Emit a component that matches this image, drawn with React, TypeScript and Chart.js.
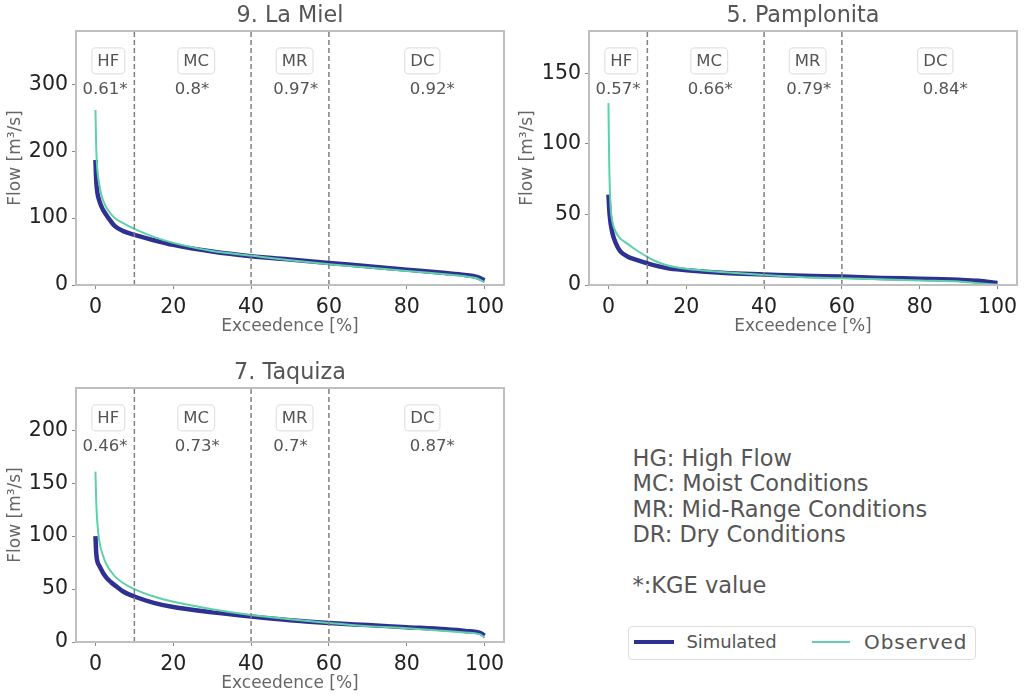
import React, { useEffect, useRef } from "react";
import { Chart, registerables } from "chart.js";

Chart.register(...registerables);

// ---- values ----
const regimeLabels = ["HF", "MC", "MR", "DC"];
const regimeBounds = [10, 40, 60];
const xTicks = [0, 20, 40, 60, 80, 100];

const mielTitle = "9. La Miel";
const mielYMax = 380;
const mielYStep = 100;
const mielKge = ["0.61*", "0.8*", "0.97*", "0.92*"];
const mielObsX = [0, 0.2, 0.5, 1, 1.5, 2, 3, 4, 5, 7, 10, 15, 20, 30, 40, 50, 60, 70, 80, 90, 95, 98, 100];
const mielObsY = [262, 205, 172, 150, 135, 126, 114, 106, 100, 93, 84, 72, 63, 51, 44, 37, 31, 26, 21, 16, 13, 10, 4];
const mielSimX = [0, 0.2, 0.5, 1, 1.5, 2, 3, 4, 5, 7, 10, 15, 20, 30, 40, 50, 60, 70, 80, 90, 95, 98, 100];
const mielSimY = [187, 156, 138, 126, 118, 112, 103, 95, 88, 81, 75, 67, 60, 50, 43, 38, 33, 28, 23, 18, 15, 12, 7];

const pamTitle = "5. Pamplonita";
const pamYMax = 180;
const pamYStep = 50;
const pamKge = ["0.57*", "0.66*", "0.79*", "0.84*"];
const pamObsX = [0, 0.2, 0.5, 1, 2, 3, 5, 7, 10, 12, 15, 20, 30, 40, 50, 60, 70, 80, 90, 95, 100];
const pamObsY = [129, 85, 58, 45, 37, 33, 29, 25, 20, 17, 14, 11.5, 9, 7, 5.5, 4.8, 4, 3.2, 2.5, 1.3, 0.2];
const pamSimX = [0, 0.3, 1, 2, 3, 5, 7, 10, 15, 20, 30, 40, 50, 60, 70, 80, 90, 95, 100];
const pamSimY = [64, 50, 37, 29, 24, 20, 18, 15.4, 12, 10.5, 8.5, 7.5, 6.5, 6, 5, 4.5, 3.7, 3, 1.5];

const taqTitle = "7. Taquiza";
const taqYMax = 240;
const taqYStep = 50;
const taqKge = ["0.46*", "0.73*", "0.7*", "0.87*"];
const taqObsX = [0, 0.2, 0.5, 1, 2, 3, 5, 7, 10, 15, 20, 30, 40, 50, 60, 70, 80, 90, 95, 99, 100];
const taqObsY = [161, 132, 112, 95, 81, 72, 62, 56, 50, 43, 38, 31, 25.5, 21.5, 18, 15, 13, 10.5, 9, 7, 4];
const taqSimX = [0, 0.2, 0.5, 1, 2, 3, 4, 5, 7, 10, 15, 20, 30, 40, 50, 60, 70, 80, 90, 95, 99, 100];
const taqSimY = [100, 84, 76, 72, 65, 60, 56.5, 53.5, 48, 43, 37, 33, 28, 24, 20.5, 18, 16, 14, 12, 10.5, 8.5, 6];

const noteLines = ["HG: High Flow", "MC: Moist Conditions", "MR: Mid-Range Conditions", "DR: Dry Conditions"];
const noteKge = "*:KGE value";
const simulatedName = "Simulated";
const observedName = "Observed";
const xAxisName = "Exceedence [%]";
const yAxisName = "Flow [m³/s]";

// ---- styles ----
const FONT = "'DejaVu Sans', sans-serif";
const NAVY = "#2e3192";
const GREEN = "#5fd0a8";
const GREY_TEXT = "#555555";
const SPINE = "#bfbfbf";

const labelX = [3.3, 25.9, 51.2, 84];
const kgeX = [-3.3, 20.4, 45.7, 80.8];

const zip = (xs: number[], ys: number[]) => xs.map((x, i) => ({ x, y: ys[i] }));

function panelPlugin(kge: string[]) {
  return {
    id: "panelDecor",
    afterDatasetsDraw(chart: any) {
      const { ctx, chartArea: a, scales } = chart;
      ctx.save();
      ctx.strokeStyle = SPINE;
      ctx.lineWidth = 2;
      ctx.strokeRect(a.left, a.top, a.right - a.left, a.bottom - a.top);
      const h = a.bottom - a.top;
      ctx.font = `16.5px ${FONT}`;
      ctx.textBaseline = "middle";
      ctx.textAlign = "center";
      regimeLabels.forEach((label: string, i: number) => {
        const cx = scales.x.getPixelForValue(labelX[i]);
        const cy = a.top + h * 0.118;
        const w = ctx.measureText(label).width + 11;
        ctx.beginPath();
        ctx.roundRect(cx - w / 2, cy - 13, w, 26, 4);
        ctx.fillStyle = "#ffffff";
        ctx.fill();
        ctx.strokeStyle = "#e2e2e2";
        ctx.lineWidth = 1.2;
        ctx.stroke();
        ctx.fillStyle = GREY_TEXT;
        ctx.fillText(label, cx, cy + 0.5);
      });
      ctx.textAlign = "left";
      ctx.font = `16.5px ${FONT}`;
      ctx.fillStyle = GREY_TEXT;
      kge.forEach((t: string, i: number) => {
        ctx.fillText(t, scales.x.getPixelForValue(kgeX[i]), a.top + h * 0.232);
      });
      ctx.restore();
    },
  };
}

function buildConfig(opts: any) {
  const { title, yMax, yStep, kge, obs, sim, yWidth, padRight } = opts;
  const dashed = regimeBounds.map((b) => ({
    data: [{ x: b, y: 0 }, { x: b, y: yMax }],
    borderColor: "#808080",
    borderWidth: 1.5,
    borderDash: [5, 3],
    pointRadius: 0,
  }));
  return {
    type: "line",
    data: {
      datasets: [
        ...dashed,
        { label: observedName, data: obs, borderColor: GREEN, borderWidth: 2, pointRadius: 0, cubicInterpolationMode: "monotone" },
        { label: simulatedName, data: sim, borderColor: NAVY, borderWidth: 4.5, pointRadius: 0, cubicInterpolationMode: "monotone" },
      ],
    },
    options: {
      animation: false,
      responsive: false,
      devicePixelRatio: 1,
      layout: { padding: { left: 0, right: padRight, top: 0, bottom: 0 } },
      plugins: {
        legend: { display: false },
        tooltip: { enabled: false },
        title: {
          display: true,
          text: title,
          fullSize: false,
          color: GREY_TEXT,
          font: { family: FONT, size: 22.3, weight: "normal", lineHeight: 1.2 },
          padding: { top: 3, bottom: 1.24 },
        },
      },
      scales: {
        x: {
          type: "linear",
          min: -5,
          max: 105,
          afterFit: (s: any) => { s.height = 55; },
          afterBuildTicks: (s: any) => { s.ticks = xTicks.map((value) => ({ value })); },
          grid: { display: true, drawOnChartArea: false, color: "#8a8a8a", tickLength: 4, tickWidth: 1 },
          border: { color: SPINE, width: 2 },
          ticks: { color: "#222222", maxRotation: 0, autoSkip: false, padding: 6, font: { family: FONT, size: 20.5 } },
          title: { display: true, text: xAxisName, color: "#666666", padding: { top: 0, bottom: 3 }, font: { family: FONT, size: 17, lineHeight: 1.2 } },
        },
        y: {
          type: "linear",
          min: 0,
          max: yMax,
          afterFit: (s: any) => { s.width = yWidth; },
          grid: { display: true, drawOnChartArea: false, color: "#8a8a8a", tickLength: 4, tickWidth: 1 },
          border: { color: SPINE, width: 2 },
          ticks: { color: "#222222", stepSize: yStep, includeBounds: false, padding: 4, font: { family: FONT, size: 20.5 } },
          title: { display: true, text: yAxisName, color: "#666666", padding: { top: 5, bottom: 0 }, font: { family: FONT, size: 17, lineHeight: 1.2 } },
        },
      },
    },
    plugins: [panelPlugin(kge)],
  };
}

function Panel(props: any) {
  const ref = useRef<HTMLCanvasElement | null>(null);
  useEffect(() => {
    const chart = new Chart(ref.current as any, buildConfig(props) as any);
    return () => chart.destroy();
  }, []);
  return (
    <canvas
      ref={ref}
      width={512}
      height={340}
      style={{ position: "absolute", left: props.left, top: props.top, width: 512, height: 340 }}
    />
  );
}

const absText = (left: number, cy: number, size: number, spacing = 0): React.CSSProperties => ({
  position: "absolute",
  left,
  top: cy - 20,
  height: 40,
  lineHeight: "40px",
  fontSize: size,
  letterSpacing: spacing,
  fontFamily: FONT,
  color: GREY_TEXT,
  whiteSpace: "nowrap",
});

export default function App() {
  return (
    <div style={{ position: "absolute", left: 0, top: 0, width: 1024, height: 698, overflow: "hidden", background: "#fff", filter: "blur(0.45px)" }}>
      <Panel left={0} top={0} title={mielTitle} yMax={mielYMax} yStep={mielYStep} kge={mielKge} obs={zip(mielObsX, mielObsY)} sim={zip(mielSimX, mielSimY)} yWidth={76} padRight={8} />
      <Panel left={512} top={0} title={pamTitle} yMax={pamYMax} yStep={pamYStep} kge={pamKge} obs={zip(pamObsX, pamObsY)} sim={zip(pamSimX, pamSimY)} yWidth={77} padRight={7} />
      <Panel left={0} top={357} title={taqTitle} yMax={taqYMax} yStep={taqYStep} kge={taqKge} obs={zip(taqObsX, taqObsY)} sim={zip(taqSimX, taqSimY)} yWidth={76} padRight={8} />

      {noteLines.map((t, i) => (
        <div key={t} style={absText(632.5, 458 + i * 25.3, 22.5)}>{t}</div>
      ))}
      <div style={absText(632.5, 585, 22.5)}>{noteKge}</div>

      <div style={{ position: "absolute", left: 628, top: 626, width: 346, height: 32, border: "1px solid #dddddd", borderRadius: 4, background: "#fff" }} />
      <div style={{ position: "absolute", left: 633.5, top: 640, width: 40.5, height: 4, background: NAVY }} />
      <div style={absText(686.5, 642, 18, -0.1)}>{simulatedName}</div>
      <div style={{ position: "absolute", left: 811.5, top: 641, width: 38.5, height: 2, background: GREEN }} />
      <div style={absText(864, 642, 20, 0.9)}>{observedName}</div>
    </div>
  );
}
